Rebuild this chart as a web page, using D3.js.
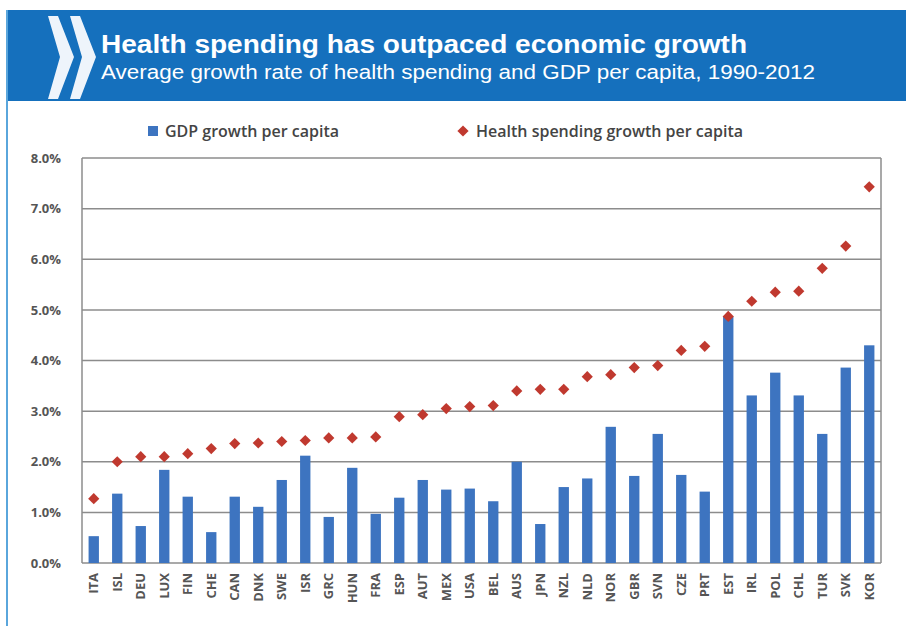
<!DOCTYPE html>
<html>
<head>
<meta charset="utf-8">
<script src="https://cdn.jsdelivr.net/npm/d3@7"></script>
<style>
  body { margin: 0; background: #fff; }
  svg { display: block; }
</style>
</head>
<body>
<div id="chart"></div>
<script>
const countries = ["ITA","ISL","DEU","LUX","FIN","CHE","CAN","DNK","SWE","ISR","GRC","HUN","FRA","ESP","AUT","MEX","USA","BEL","AUS","JPN","NZL","NLD","NOR","GBR","SVN","CZE","PRT","EST","IRL","POL","CHL","TUR","SVK","KOR"];
const gdpGrowth = [0.53,1.37,0.73,1.84,1.31,0.61,1.31,1.11,1.64,2.12,0.91,1.88,0.97,1.29,1.64,1.45,1.47,1.22,2.0,0.77,1.5,1.67,2.69,1.72,2.55,1.74,1.41,4.87,3.31,3.76,3.31,2.55,3.86,4.30];
const healthGrowth = [1.27,2.0,2.1,2.1,2.16,2.26,2.36,2.37,2.40,2.42,2.47,2.47,2.49,2.89,2.93,3.05,3.09,3.11,3.40,3.43,3.43,3.68,3.72,3.86,3.90,4.20,4.28,4.87,5.17,5.35,5.37,5.82,6.26,7.43];
const yTicks = [0,1,2,3,4,5,6,7,8];
const seriesNames = ["GDP growth per capita", "Health spending growth per capita"];

const width = 906, height = 626;
const plotLeft = 82, plotRight = 881, plotTop = 158, plotBottom = 563;
const blue = "#3d74c0", red = "#c0392f";

const svg = d3.select("#chart").append("svg")
    .attr("width", width)
    .attr("height", height);

// header band
svg.append("rect").attr("x", 7).attr("y", 10).attr("width", width - 7).attr("height", 91).attr("fill", "#1570bd");
svg.append("line").attr("x1", 7).attr("x2", 7).attr("y1", 10).attr("y2", height).attr("stroke", "#5aa6dc").attr("stroke-width", 2);

// chevrons
const chevron = (x0) => `M${x0},16 L${x0 + 10},16 L${x0 + 26},57 L${x0 + 10},99 L${x0},99 L${x0 + 12},57 Z`;
svg.append("path").attr("d", chevron(48)).attr("fill", "#eef4fb");
svg.append("path").attr("d", chevron(70)).attr("fill", "#eef4fb");

svg.append("text")
    .attr("x", 101).attr("y", 53)
    .attr("fill", "#fff")
    .style("font-family", "Liberation Sans, Arial, sans-serif")
    .style("font-weight", "bold")
    .style("font-size", "25px")
    .attr("textLength", 646).attr("lengthAdjust", "spacingAndGlyphs")
    .text("Health spending has outpaced economic growth");

svg.append("text")
    .attr("x", 101).attr("y", 79)
    .attr("fill", "#fff")
    .style("font-family", "Liberation Sans, Arial, sans-serif")
    .style("font-size", "19.5px")
    .attr("textLength", 714).attr("lengthAdjust", "spacingAndGlyphs")
    .text("Average growth rate of health spending and GDP per capita, 1990-2012");

const x = d3.scaleBand()
    .domain(countries)
    .range([plotLeft, plotRight])
    .paddingInner(0.56)
    .paddingOuter(0.28);

const y = d3.scaleLinear()
    .domain([0, 8])
    .range([plotBottom, plotTop]);

// gridlines
svg.append("g")
    .selectAll("line")
    .data(yTicks)
    .join("line")
    .attr("x1", plotLeft).attr("x2", plotRight)
    .attr("y1", d => y(d)).attr("y2", d => y(d))
    .attr("stroke", "#8c8c8c")
    .attr("stroke-width", 1.5);

svg.append("line").attr("x1", plotLeft).attr("x2", plotLeft).attr("y1", plotTop).attr("y2", plotBottom).attr("stroke", "#8c8c8c").attr("stroke-width", 1.5);
svg.append("line").attr("x1", plotRight).attr("x2", plotRight).attr("y1", plotTop).attr("y2", plotBottom).attr("stroke", "#8c8c8c").attr("stroke-width", 1.5);

// y axis labels
const yAxis = svg.append("g")
    .attr("transform", `translate(${plotLeft - 18},0)`)
    .call(d3.axisLeft(y).tickValues(yTicks).tickSize(0).tickFormat(d => d3.format(".1f")(d) + "%"));
yAxis.select(".domain").remove();
yAxis.selectAll("text")
    .attr("fill", "#555")
    .style("font-family", "Open Sans, sans-serif")
    .style("font-weight", "bold")
    .style("font-size", "13px");

// bars
svg.append("g")
    .selectAll("rect")
    .data(countries)
    .join("rect")
    .attr("x", d => x(d))
    .attr("width", x.bandwidth())
    .attr("y", (d, i) => y(gdpGrowth[i]))
    .attr("height", (d, i) => y(0) - y(gdpGrowth[i]))
    .attr("fill", blue);

// diamonds
svg.append("g")
    .selectAll("path")
    .data(countries)
    .join("path")
    .attr("transform", (d, i) => `translate(${x(d) + x.bandwidth() / 2},${y(healthGrowth[i])})`)
    .attr("d", d3.symbol(d3.symbolDiamond2, 80))
    .attr("fill", red);

// x axis labels
const xAxis = svg.append("g")
    .attr("transform", `translate(0,${plotBottom + 10})`)
    .call(d3.axisBottom(x).tickSize(0));
xAxis.select(".domain").remove();
xAxis.selectAll("text")
    .attr("transform", "rotate(-90)")
    .attr("x", 0).attr("y", 0).attr("dx", 0).attr("dy", "0.35em")
    .attr("text-anchor", "end")
    .attr("fill", "#555")
    .style("font-family", "Open Sans, sans-serif")
    .style("font-weight", "bold")
    .style("font-size", "13px");

// legend
const legend = svg.append("g")
    .style("font-family", "Open Sans, sans-serif")
    .style("font-weight", "600")
    .style("font-size", "16px")
    .attr("fill", "#444");
legend.append("rect").attr("x", 148).attr("y", 126).attr("width", 10).attr("height", 10).attr("fill", blue);
legend.append("text").attr("x", 165).attr("y", 137).text(seriesNames[0]);
legend.append("path").attr("transform", "translate(463,131)").attr("d", d3.symbol(d3.symbolDiamond2, 80)).attr("fill", red);
legend.append("text").attr("x", 476).attr("y", 137).text(seriesNames[1]);
</script>
</body>
</html>
